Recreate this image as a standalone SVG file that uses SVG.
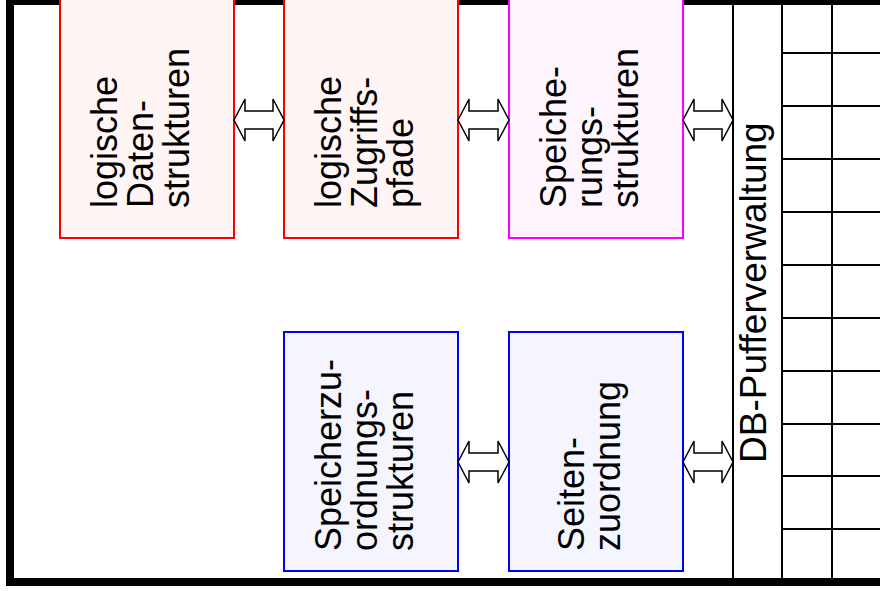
<svg xmlns="http://www.w3.org/2000/svg" width="880" height="591" viewBox="0 0 880 591">
<style>
text{font-family:"Liberation Sans",Arial,sans-serif;font-size:36px;fill:#000}
.big{font-size:37px}
.red{fill:#fff5f5;stroke:#ff0000;stroke-width:2}
.mag{fill:#fff5ff;stroke:#ff00ff;stroke-width:2}
.blue{fill:#f5f5ff;stroke:#0000ff;stroke-width:2}
.grid{stroke:#000;stroke-width:2;fill:none}
.arrow{fill:#fff;stroke:#000;stroke-width:1.5;stroke-linejoin:miter}
</style>
<rect width="880" height="591" fill="#fff"/>
<g id="frame">
<rect x="10" y="1" width="876" height="581" fill="none" stroke="#000" stroke-width="8"/>
</g>
<g id="grid" class="grid">
<line x1="733" y1="4" x2="733" y2="578"/>
<line x1="782" y1="4" x2="782" y2="578"/>
<line x1="832" y1="4" x2="832" y2="578"/>
<line x1="782" y1="53" x2="880" y2="53"/>
<line x1="782" y1="106" x2="880" y2="106"/>
<line x1="782" y1="159" x2="880" y2="159"/>
<line x1="782" y1="212" x2="880" y2="212"/>
<line x1="782" y1="265" x2="880" y2="265"/>
<line x1="782" y1="318" x2="880" y2="318"/>
<line x1="782" y1="371" x2="880" y2="371"/>
<line x1="782" y1="424" x2="880" y2="424"/>
<line x1="782" y1="476" x2="880" y2="476"/>
<line x1="782" y1="529" x2="880" y2="529"/>
</g>
<g id="puffer">
<text class="big" transform="rotate(-90)" x="-463" y="766">DB-Pufferverwaltung</text>
</g>
<g id="n1">
<rect class="red" x="60" y="-2" width="174" height="240"/>
<text transform="rotate(-90)"><tspan x="-208" y="117">logische</tspan><tspan x="-208" y="153">Daten-</tspan><tspan x="-208" y="189">strukturen</tspan></text>
</g>
<g id="n2">
<rect class="red" x="284" y="-2" width="174" height="240"/>
<text transform="rotate(-90)"><tspan x="-208" y="341">logische</tspan><tspan x="-208" y="377">Zugriffs-</tspan><tspan x="-208" y="413">pfade</tspan></text>
</g>
<g id="n3">
<rect class="mag" x="509" y="-2" width="174" height="240"/>
<text transform="rotate(-90)"><tspan x="-208" y="566">Speiche-</tspan><tspan x="-208" y="602">rungs-</tspan><tspan x="-208" y="638">strukturen</tspan></text>
</g>
<g id="n4">
<rect class="blue" x="284" y="332" width="174" height="239"/>
<text transform="rotate(-90)"><tspan x="-551" y="341">Speicherzu-</tspan><tspan x="-551" y="377">ordnungs-</tspan><tspan x="-551" y="413">strukturen</tspan></text>
</g>
<g id="n5">
<rect class="blue" x="509" y="332" width="174" height="239"/>
<text transform="rotate(-90)"><tspan x="-551" y="584">Seiten-</tspan><tspan x="-551" y="620">zuordnung</tspan></text>
</g>
<g id="connectors" class="arrow">
<path d="M234,120 L245,99 L245,111 L273,111 L273,99 L284,120 L273,141 L273,129 L245,129 L245,141 Z"/>
<path d="M458,120 L469,99 L469,111 L498,111 L498,99 L509,120 L498,141 L498,129 L469,129 L469,141 Z"/>
<path d="M683,120 L694,99 L694,111 L722,111 L722,99 L733,120 L722,141 L722,129 L694,129 L694,141 Z"/>
<path d="M458,462 L469,441 L469,453 L498,453 L498,441 L509,462 L498,483 L498,471 L469,471 L469,483 Z"/>
<path d="M683,462 L694,441 L694,453 L722,453 L722,441 L733,462 L722,483 L722,471 L694,471 L694,483 Z"/>
</g>
</svg>
